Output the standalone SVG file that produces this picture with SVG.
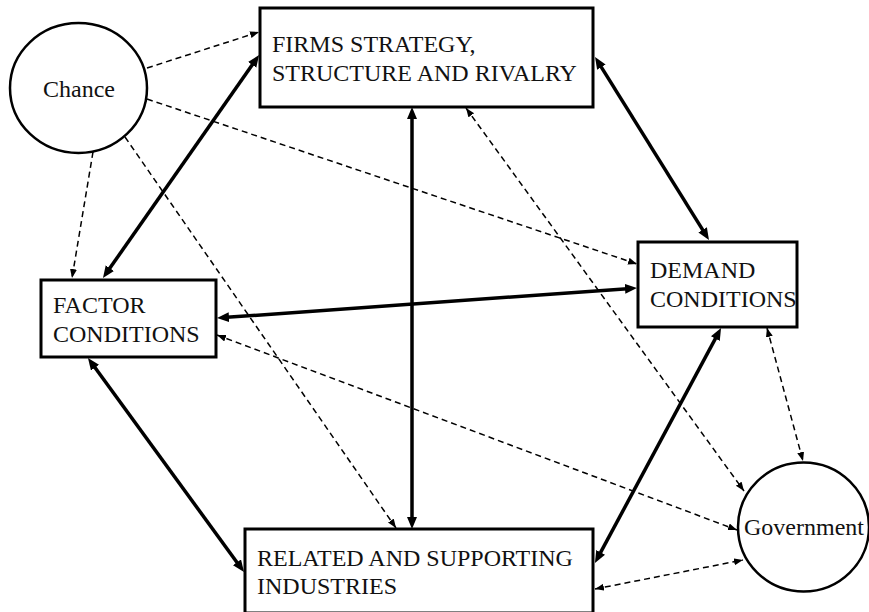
<svg xmlns="http://www.w3.org/2000/svg" width="869" height="612" viewBox="0 0 869 612">
<style>
.box{fill:#fff;stroke:#000;stroke-width:3}
.circ{fill:#fff;stroke:#000;stroke-width:2.5}
.t{font-family:"Liberation Serif","Times New Roman",serif;font-size:24px;fill:#111}
.thick{stroke:#000;stroke-width:3.5;fill:none;marker-start:url(#ah);marker-end:url(#ah)}
.dash{stroke:#000;stroke-width:1.5;fill:none;stroke-dasharray:6 4}
.one{marker-end:url(#dh)}
.two{marker-start:url(#dh);marker-end:url(#dh)}
</style>
<defs>
<marker id="ah" markerUnits="userSpaceOnUse" markerWidth="13" markerHeight="11" refX="6" refY="5" orient="auto-start-reverse"><path d="M0,0 L12,5 L0,10 z" fill="#000"/></marker>
<marker id="dh" markerUnits="userSpaceOnUse" markerWidth="10" markerHeight="8" refX="9" refY="3.5" orient="auto-start-reverse"><path d="M0,0 L9,3.5 L0,7 z" fill="#000"/></marker>
</defs>
<rect width="869" height="612" fill="#fff"/>
<g id="chance"><ellipse class="circ" cx="78.5" cy="88" rx="68.5" ry="65"/><text class="t" x="79" y="97" text-anchor="middle">Chance</text></g>
<g id="firms"><rect class="box" x="260" y="8" width="333" height="99"/><text class="t" x="272" y="52">FIRMS STRATEGY,</text><text class="t" x="272" y="81">STRUCTURE AND RIVALRY</text></g>
<g id="demand"><rect class="box" x="638" y="242" width="159" height="85"/><text class="t" x="650" y="278">DEMAND</text><text class="t" x="650" y="307">CONDITIONS</text></g>
<g id="factor"><rect class="box" x="41" y="280" width="175" height="77"/><text class="t" x="53" y="313">FACTOR</text><text class="t" x="53" y="342">CONDITIONS</text></g>
<g id="related"><rect class="box" x="245" y="529" width="348" height="84"/><text class="t" x="257" y="566">RELATED AND SUPPORTING</text><text class="t" x="257" y="594">INDUSTRIES</text></g>
<g id="government"><ellipse class="circ" cx="803.5" cy="527" rx="65.5" ry="64.5"/><text class="t" x="804" y="535" text-anchor="middle">Government</text></g>
<g id="connectors">
<line class="thick" x1="255.6" y1="59.9" x2="106.4" y2="273.1"/>
<line class="thick" x1="598.2" y1="62.1" x2="705.8" y2="234.9"/>
<line class="thick" x1="223" y1="317.6" x2="631" y2="288.4"/>
<line class="thick" x1="412" y1="113" x2="412" y2="523"/>
<line class="thick" x1="91.5" y1="362.8" x2="240.5" y2="567.2"/>
<line class="thick" x1="597.8" y1="557.7" x2="718.2" y2="333.3"/>
<line class="dash one" x1="147" y1="68" x2="259" y2="32"/>
<line class="dash one" x1="147" y1="99" x2="637" y2="264"/>
<line class="dash one" x1="93" y1="152" x2="72" y2="278"/>
<line class="dash one" x1="125" y1="137" x2="396" y2="528"/>
<line class="dash two" x1="466" y1="108" x2="744" y2="491"/>
<line class="dash two" x1="217" y1="335" x2="737" y2="530"/>
<line class="dash two" x1="767" y1="328" x2="803" y2="461"/>
<line class="dash two" x1="595" y1="589" x2="743" y2="560"/>
</g>
</svg>
